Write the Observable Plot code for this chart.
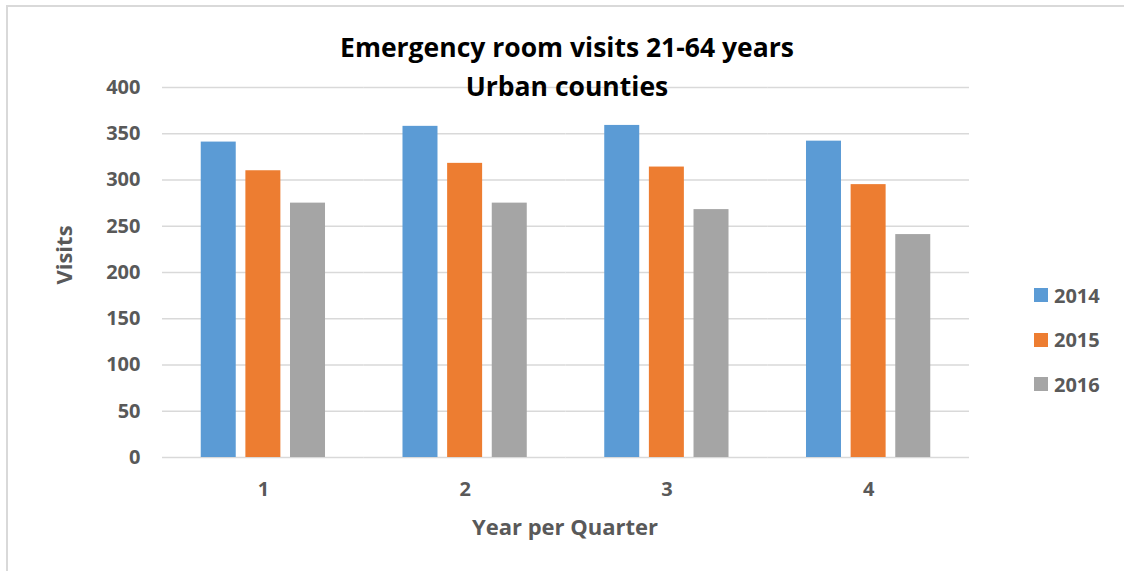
<!DOCTYPE html>
<html>
<head>
<meta charset="utf-8">
<script src="https://cdn.jsdelivr.net/npm/d3@7"></script>
<script src="https://cdn.jsdelivr.net/npm/@observablehq/plot@0.6"></script>
<style>
  html, body { margin: 0; padding: 0; background: #fff; }
  #chart { position: relative; width: 1124px; height: 571px; overflow: hidden; font-family: "Open Sans", Lato, sans-serif; }
  #frame { position: absolute; left: 6px; top: 5px; width: 2000px; height: 2000px;
           border-top: 2px solid #d9d9d9; border-left: 2px solid #d9d9d9; }
  #chart svg { position: absolute; left: 0; top: 0; }
  .title { position: absolute; left: 0; width: 1134px; text-align: center; font-weight: bold;
           font-size: 26.5px; color: #000; line-height: 1; white-space: nowrap; }
  .axis-label { position: absolute; font-weight: bold; font-size: 22px; color: #595959; white-space: nowrap; line-height: 1; }
  .legend { position: absolute; left: 1034px; top: 284px; font-weight: bold; font-size: 20px; color: #595959; }
  .legend .item { display: flex; align-items: center; height: 22px; margin-bottom: 22.5px; }
  .legend .swatch { width: 14px; height: 14px; margin-right: 6px; }
</style>
</head>
<body>
<div id="chart">
  <div id="frame"></div>
</div>
<script>
// Quarterly emergency room visits, ages 21-64, urban counties
const quarters = ["1", "2", "3", "4"];
const years = ["2014", "2015", "2016"];
const visits2014 = [341, 358, 359, 342];
const visits2015 = [310, 318, 314, 295];
const visits2016 = [275, 275, 268, 241];
const yTicks = [0, 50, 100, 150, 200, 250, 300, 350, 400];
const colors = ["#5B9BD5", "#ED7D31", "#A5A5A5"];

const series = [visits2014, visits2015, visits2016];
const rows = [];
quarters.forEach((q, i) => {
  years.forEach((y, j) => rows.push({quarter: q, year: y, visits: series[j][i]}));
});

const plot = Plot.plot({
  width: 1124,
  height: 571,
  marginLeft: 162,
  marginRight: 155,
  marginTop: 87,
  marginBottom: 114,
  style: {fontFamily: "'Open Sans', Lato, sans-serif", fontSize: "20px", fontWeight: "bold", color: "#595959", background: "transparent"},
  fx: {domain: quarters, padding: 0, round: false, label: null, axis: "bottom", tickSize: 0, tickPadding: 24},
  x: {domain: years, paddingInner: 0.216, paddingOuter: 0.868, round: false, axis: null},
  y: {domain: [0, 400], ticks: yTicks, label: null, tickSize: 0, tickPadding: 22},
  color: {domain: years, range: colors},
  marks: [
    Plot.gridY(yTicks, {stroke: "#d9d9d9", strokeOpacity: 1, strokeWidth: 1.5}),
    Plot.barY(rows, {fx: "quarter", x: "year", y: "visits", fill: "year"})
  ]
});

const chart = document.getElementById("chart");
chart.appendChild(plot);

// Title, axis titles and legend laid over the plot
const addDiv = (cls, text, css) => {
  const d = document.createElement("div");
  d.className = cls;
  d.textContent = text;
  Object.assign(d.style, css);
  chart.appendChild(d);
  return d;
};
addDiv("title", "Emergency room visits 21-64 years", {top: "34px"});
addDiv("title", "Urban counties", {top: "73px"});
addDiv("axis-label", "Year per Quarter", {left: "565px", top: "515px", transform: "translateX(-50%)"});
addDiv("axis-label", "Visits", {left: "63px", top: "255px", transform: "translate(-50%, -50%) rotate(-90deg)"});

const legend = document.createElement("div");
legend.className = "legend";
years.forEach((y, j) => {
  const item = document.createElement("div");
  item.className = "item";
  const sw = document.createElement("div");
  sw.className = "swatch";
  sw.style.background = colors[j];
  const t = document.createElement("span");
  t.textContent = y;
  item.appendChild(sw);
  item.appendChild(t);
  legend.appendChild(item);
});
chart.appendChild(legend);
</script>
</body>
</html>
